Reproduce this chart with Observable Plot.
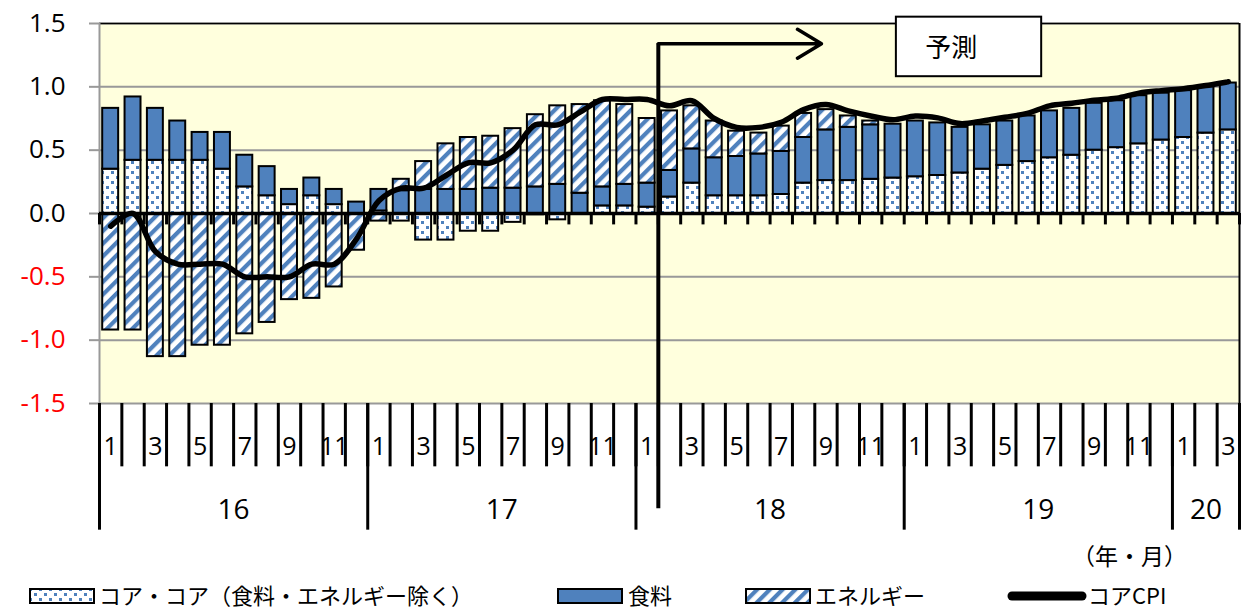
<!DOCTYPE html>
<html><head><meta charset="utf-8">
<script src="https://cdn.jsdelivr.net/npm/d3@7"></script>
<script src="https://cdn.jsdelivr.net/npm/@observablehq/plot@0.6"></script>
<style>
body{margin:0;background:#fff;}
#wrap{position:relative;width:1245px;height:610px;overflow:hidden;}
.jp{font-family:"Noto Sans CJK JP","Noto Sans",sans-serif;color:#000;position:absolute;white-space:nowrap;line-height:1;}
.sw{position:absolute;}
</style></head><body><div id="wrap"></div>
<script>
// ---- data ----
const years = ["16","17","18","19","20"];
const monthsPerYear = [12,12,12,12,3];
const seriesNames = ["コア・コア（食料・エネルギー除く）","食料","エネルギー"];
const lineName = "コアCPI";
const coreCore = [
  0.35,0.42,0.42,0.42,0.42,0.35,0.21,0.14,0.07,0.14,0.07,0.00,
  0.02,-0.06,-0.21,-0.21,-0.14,-0.14,-0.07,-0.01,-0.05,0.00,0.06,0.06,
  0.05,0.13,0.24,0.14,0.14,0.14,0.15,0.24,0.26,0.26,0.27,0.28,
  0.29,0.30,0.32,0.35,0.38,0.41,0.44,0.46,0.50,0.52,0.55,0.58,
  0.60,0.635,0.66];
const food = [
  0.48,0.50,0.41,0.31,0.22,0.29,0.25,0.23,0.12,0.14,0.12,0.09,
  0.17,0.18,0.19,0.19,0.19,0.20,0.20,0.21,0.23,0.16,0.15,0.17,
  0.19,0.21,0.27,0.30,0.31,0.33,0.34,0.36,0.40,0.42,0.43,0.425,
  0.44,0.415,0.36,0.35,0.35,0.36,0.37,0.37,0.37,0.37,0.38,0.37,
  0.37,0.365,0.37];
const energy = [
  -0.92,-0.92,-1.13,-1.13,-1.04,-1.04,-0.95,-0.86,-0.68,-0.67,-0.58,-0.29,
  -0.06,0.09,0.22,0.36,0.41,0.41,0.47,0.57,0.62,0.70,0.68,0.63,
  0.51,0.47,0.34,0.29,0.20,0.165,0.20,0.19,0.16,0.09,0.03,0.00,
  0,0,0,0,0,0,0,0,0,0,0,0,
  0,0,0];
const coreCPI = [
  -0.1,0.0,-0.3,-0.4,-0.4,-0.4,-0.5,-0.5,-0.5,-0.4,-0.4,-0.2,
  0.1,0.2,0.2,0.3,0.4,0.4,0.5,0.7,0.7,0.8,0.9,0.9,
  0.9,0.85,0.89,0.75,0.68,0.68,0.72,0.82,0.86,0.81,0.77,0.74,
  0.77,0.755,0.71,0.73,0.76,0.79,0.85,0.87,0.895,0.91,0.95,0.97,
  0.985,1.01,1.04];
const yTicks = [-1.5,-1.0,-0.5,0.0,0.5,1.0,1.5];
const forecastLabel = "予測";
const unitLabel = "（年・月）";
const forecastStart = 25;   // Feb 2018 boundary
const colors = {food:"#4F81BD", bg:"#FFFFDD", grid:"#999999"};

// ---- derived tables ----
const n = coreCore.length;
const idx = d3.range(n);
const monthNum = [], yearStart = [];
{ let k = 0; years.forEach((y,j)=>{ yearStart.push(k); for(let m=1;m<=monthsPerYear[j];m++){monthNum.push(m);k++;} }); }
const yearBounds = [...yearStart, n];
const barRows = idx.flatMap(i => [
  {i, s: seriesNames[0], v: coreCore[i]},
  {i, s: seriesNames[1], v: food[i]},
  {i, s: seriesNames[2], v: energy[i]}
]).filter(d => Math.abs(d.v) > 0.004);
const lineRows = idx.map(i => ({i, v: coreCPI[i]}));

const numFont = "'Open Sans', sans-serif";
const jpFont = "'Noto Sans CJK JP', sans-serif";

const chart = Plot.plot({
  width: 1245, height: 540,
  marginLeft: 99, marginRight: 6, marginTop: 23, marginBottom: 137,
  x: {type: "linear", domain: [0, n], axis: null},
  y: {domain: [-1.5, 1.5]},
  color: {domain: seriesNames, range: ["url(#ccDots)", colors.food, "url(#enHatch)"]},
  style: {fontFamily: numFont, background: "transparent", overflow: "visible", color: "#000"},
  marks: [
    Plot.frame({fill: colors.bg, stroke: null}),
    Plot.ruleY(yTicks, {stroke: colors.grid, strokeWidth: 2}),
    Plot.ruleY([yTicks[yTicks.length-1]], {stroke: "#000", strokeWidth: 1.5}),
    Plot.ruleX([0], {stroke: colors.grid, strokeWidth: 2}),
    Plot.ruleX([n], {stroke: "#000", strokeWidth: 2}),
    Plot.axisY({ticks: yTicks.filter(d => d >= 0), tickFormat: d => d.toFixed(1), tickSize: 10, tickPadding: 24,
      fontSize: 26, fill: "#000", stroke: colors.grid, strokeWidth: 2, label: null}),
    Plot.axisY({ticks: yTicks.filter(d => d < 0), tickFormat: d => d.toFixed(1), tickSize: 10, tickPadding: 24,
      fontSize: 26, fill: "#FF0000", stroke: colors.grid, strokeWidth: 2, label: null}),
    Plot.rectY(barRows, {x1: "i", x2: d => d.i + 1, y: "v", fill: "s", stroke: "#000", strokeWidth: 2,
      insetLeft: 3.2, insetRight: 3.2}),
    Plot.ruleY([0], {stroke: "#000", strokeWidth: 3.5}),
    Plot.ruleX(d3.range(n + 1), {y1: 0, y2: -0.09, stroke: "#000", strokeWidth: 3}),
    Plot.line(lineRows, {x: d => d.i + 0.5, y: "v", stroke: "#000", strokeWidth: 5.5, curve: "catmull-rom"}),
    // category axis below
    Plot.ruleX(d3.range(n + 1), {y1: -1.5, y2: -2.0, stroke: "#000", strokeWidth: 3}),
    Plot.ruleX(yearBounds, {y1: -1.5, y2: -2.5, stroke: "#000", strokeWidth: 3}),
    Plot.text(idx.filter(i => monthNum[i] % 2 === 1), {x: i => i + 0.5, y: -1.5, dy: 43,
      text: i => String(monthNum[i]), fontSize: 25, fill: "#000"}),
    Plot.text(years, {x: (d, j) => yearStart[j] + monthsPerYear[j] / 2, y: -1.5, dy: 107,
      text: d => d, fontSize: 28, fill: "#000"}),
    // forecast annotation
    Plot.ruleX([forecastStart], {y1: 1.34, y2: -2.33, stroke: "#000", strokeWidth: 4}),
    Plot.arrow([forecastLabel], {x1: forecastStart, x2: 32.3, y1: 1.34, y2: 1.34, stroke: "#000",
      strokeWidth: 3.5, headAngle: 62, headLength: 12}),
    Plot.rect([forecastLabel], {x1: 35.65, x2: 42.15, y1: 1.55, y2: 1.08, fill: "#fff", stroke: "#000", strokeWidth: 2}),
    Plot.text([forecastLabel], {x: 38.1, y: 1.30, text: d => d, fontSize: 26, fontFamily: jpFont, fill: "#000"})
  ]
});

// pattern defs
const defs = d3.select(chart).insert("defs", ":first-child");
const dots = defs.append("pattern").attr("id", "ccDots").attr("patternUnits", "userSpaceOnUse")
  .attr("width", 10).attr("height", 10);
dots.append("rect").attr("width", 10).attr("height", 10).attr("fill", "#fff");
dots.append("rect").attr("x", 1).attr("y", 1).attr("width", 3).attr("height", 3).attr("fill", colors.food);
dots.append("rect").attr("x", 6).attr("y", 6).attr("width", 3).attr("height", 3).attr("fill", colors.food);
const hatch = defs.append("pattern").attr("id", "enHatch").attr("patternUnits", "userSpaceOnUse")
  .attr("width", 9).attr("height", 9).attr("patternTransform", "rotate(45)");
hatch.append("rect").attr("width", 9).attr("height", 9).attr("fill", "#fff");
hatch.append("rect").attr("width", 4.2).attr("height", 9).attr("fill", colors.food);

const wrap = document.getElementById("wrap");
wrap.appendChild(chart);

// unit label & legend
function addText(t, left, centerY, size) {
  const d = document.createElement("div");
  d.className = "jp"; d.textContent = t;
  d.style.left = left + "px"; d.style.top = (centerY - size * 0.5) + "px"; d.style.fontSize = size + "px";
  wrap.appendChild(d); return d;
}
function addSwatch(left, centerY, w, h, fill, line) {
  const s = d3.create("svg").attr("class", "sw").attr("width", w + 4).attr("height", h + 4)
    .style("left", (left - 2) + "px").style("top", (centerY - h / 2 - 2) + "px");
  if (line) {
    s.append("line").attr("x1", 6).attr("x2", w - 2).attr("y1", (h + 4) / 2).attr("y2", (h + 4) / 2)
      .attr("stroke", "#000").attr("stroke-width", 9).attr("stroke-linecap", "round");
  } else {
    s.append("rect").attr("x", 2).attr("y", 2).attr("width", w).attr("height", h)
      .attr("fill", fill).attr("stroke", "#000").attr("stroke-width", 2);
  }
  wrap.appendChild(s.node());
}
addText(unitLabel, 1072, 555, 23);
const legY = 594;
addSwatch(30, legY + 2, 64, 14, "url(#ccDots)");
addText(seriesNames[0], 99, legY, 22);
addSwatch(558, legY + 2, 64, 14, colors.food);
addText(seriesNames[1], 628, legY, 22);
addSwatch(746, legY + 2, 64, 14, "url(#enHatch)");
addText(seriesNames[2], 815, legY, 22);
addSwatch(1008, legY + 2, 78, 14, null, true);
addText(lineName, 1088, legY, 22);
</script></body></html>
